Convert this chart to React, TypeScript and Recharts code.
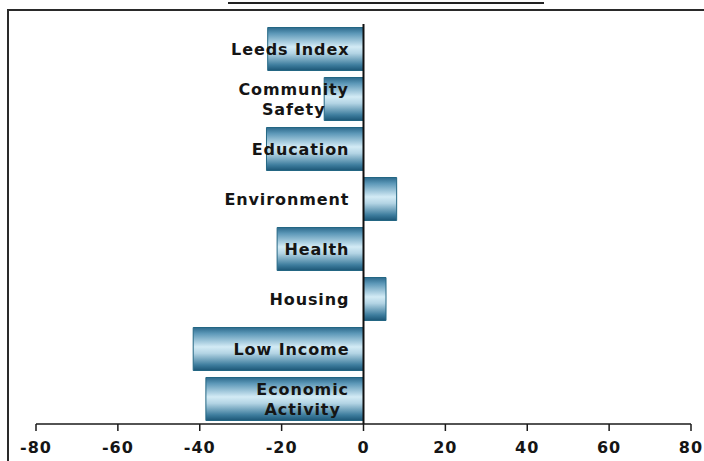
import React from "react";
import { BarChart, Bar, XAxis, YAxis, ReferenceLine, LabelList } from "recharts";

const categories = [
  "Leeds Index",
  "Community\nSafety",
  "Education",
  "Environment",
  "Health",
  "Housing",
  "Low Income",
  "Economic\nActivity",
];
const values = [-23.4, -9.6, -23.7, 8.1, -21.1, 5.5, -41.6, -38.5];
const xTicks = [-80, -60, -40, -20, 0, 20, 40, 60, 80];

const data = categories.map((c, i) => ({ name: c, value: values[i] }));

const W = 704;
const H = 461;
const M = { top: 24, right: 13, bottom: 0, left: 36 };
const DOMAIN: [number, number] = [-80, 80];
const LABEL_SIZE = 16;
const LABEL_FONT = `bold ${LABEL_SIZE}px 'DejaVu Sans'`;
const LABEL_SPACING = 0.9;

let ctx: CanvasRenderingContext2D | null = null;
function measure(t: string): number {
  if (typeof document === "undefined") return t.length * 10;
  if (!ctx) ctx = document.createElement("canvas").getContext("2d");
  if (!ctx) return t.length * 10;
  ctx.font = LABEL_FONT;
  return ctx.measureText(t).width + LABEL_SPACING * t.length;
}

const CategoryLabel = (props: any) => {
  const { x, y, height, value } = props;
  const zeroX = Number(x);
  const right = zeroX - 15;
  const cy = Number(y) + Number(height) / 2;
  const lines: string[] = String(value).split("\n");
  const common = {
    fontFamily: "'DejaVu Sans', Verdana, sans-serif",
    fontWeight: "bold" as const,
    fontSize: LABEL_SIZE,
    letterSpacing: LABEL_SPACING,
    fill: "#151515",
  };
  if (lines.length === 1) {
    return (
      <text x={right + LABEL_SPACING} y={cy} dy="0.36em" textAnchor="end" {...common}>
        {lines[0]}
      </text>
    );
  }
  const widest = Math.max(...lines.map(measure));
  const cx = right - widest / 2 + LABEL_SPACING / 2;
  const lh = 19.5;
  return (
    <g>
      {lines.map((l, i) => (
        <text
          key={i}
          x={cx}
          y={cy + (i - (lines.length - 1) / 2) * lh}
          dy="0.36em"
          textAnchor="middle"
          {...common}
        >
          {l}
        </text>
      ))}
    </g>
  );
};

export default function App() {
  return (
    <div
      style={{
        position: "absolute",
        left: 0,
        top: 0,
        width: W,
        height: H,
        overflow: "hidden",
        background: "#fff",
      }}
    >
      <div
        style={{
          position: "absolute",
          left: 228,
          top: 2,
          width: 316,
          height: 2,
          background: "#222",
        }}
      />
      <div
        style={{
          position: "absolute",
          left: 7,
          top: 9,
          width: 760,
          height: 520,
          border: "2px solid #2a2a2a",
          boxSizing: "border-box",
        }}
      />
      <div style={{ position: "absolute", left: 0, top: 0 }}>
        <BarChart
          width={W}
          height={H}
          data={data}
          layout="vertical"
          margin={M}
          barCategoryGap="7%"
        >
          <defs>
            <linearGradient id="barGrad" x1="0" y1="0" x2="0" y2="1">
              <stop offset="0" stopColor="#2c6a8c" />
              <stop offset="0.14" stopColor="#5d98b8" />
              <stop offset="0.45" stopColor="#d3ebf5" />
              <stop offset="0.6" stopColor="#b3d4e4" />
              <stop offset="0.87" stopColor="#3e7d9e" />
              <stop offset="1" stopColor="#1c5676" />
            </linearGradient>
          </defs>
          <XAxis
            type="number"
            domain={DOMAIN}
            ticks={xTicks}
            interval={0}
            height={37}
            axisLine={{ stroke: "#1a1a1a", strokeWidth: 1.5 }}
            tickLine={{ stroke: "#1a1a1a", strokeWidth: 1.5 }}
            tickSize={7}
            tick={{
              fill: "#151515",
              fontSize: 16,
              fontWeight: "bold",
              fontFamily: "'DejaVu Sans', Verdana, sans-serif",
              letterSpacing: 1,
              dy: 9,
            }}
          />
          <YAxis
            type="category"
            dataKey="name"
            width={0}
            axisLine={false}
            tickLine={false}
            tick={false}
          />
          <Bar
            dataKey="value"
            fill="url(#barGrad)"
            stroke="#236683"
            strokeWidth={1}
            isAnimationActive={false}
          >
            <LabelList dataKey="name" content={<CategoryLabel />} />
          </Bar>
          <ReferenceLine x={0} stroke="#111" strokeWidth={2} />
        </BarChart>
      </div>
    </div>
  );
}
